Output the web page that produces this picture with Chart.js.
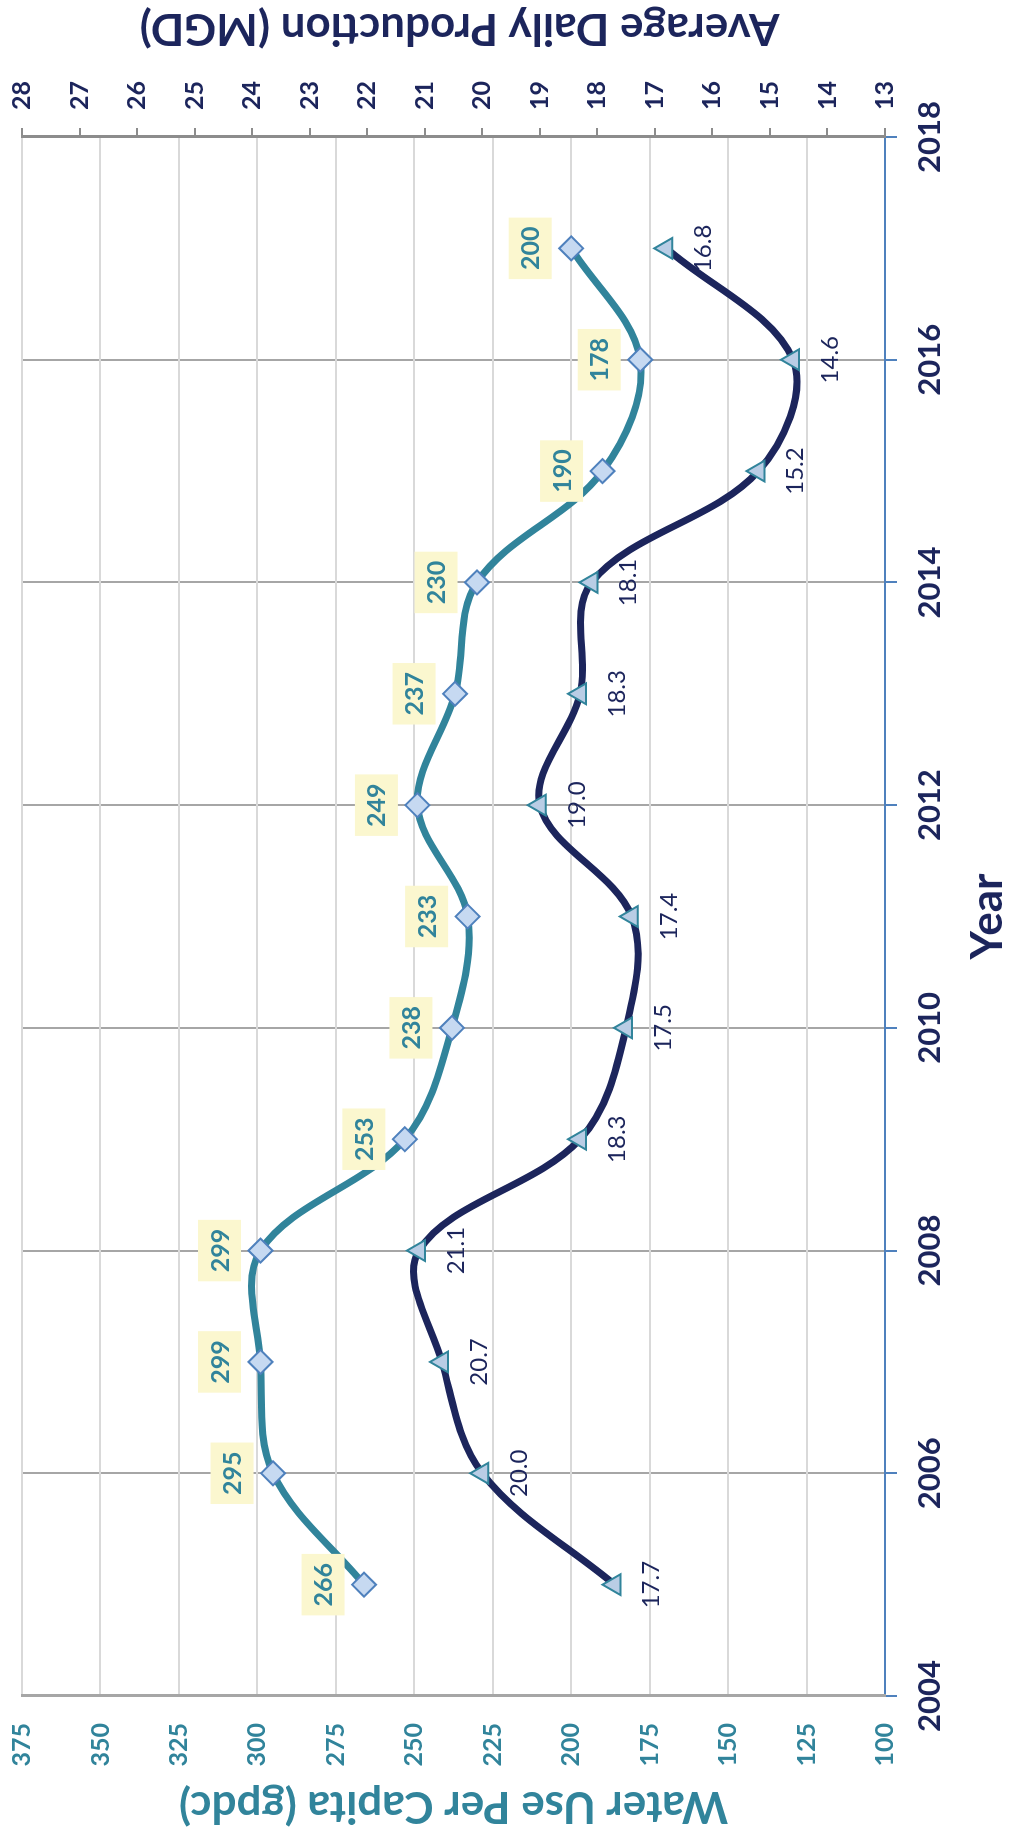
<!DOCTYPE html>
<html>
<head>
<meta charset="utf-8">
<script src="https://cdn.jsdelivr.net/npm/chart.js@4.4.1/dist/chart.umd.min.js"></script>
<style>
  html, body { margin: 0; padding: 0; background: #fff; overflow: hidden; }
  #wrap { position: relative; width: 1010px; height: 1828px; }
  /* chart is drawn landscape, then turned a quarter to the left */
  #chart { position: absolute; left: 0; top: 0; width: 1828px; height: 1010px;
           transform-origin: 0 0; transform: translate(0, 1828px) rotate(-90deg); }
</style>
</head>
<body>
<div id="wrap"><canvas id="chart" width="1828" height="1010"></canvas></div>
<script>
const years = [2005, 2006, 2007, 2008, 2009, 2010, 2011, 2012, 2013, 2014, 2015, 2016, 2017];
const waterUse = [266, 295, 299, 299, 253, 238, 233, 249, 237, 230, 190, 178, 200];
const production = [17.7, 20.0, 20.7, 21.1, 18.3, 17.5, 17.4, 19.0, 18.3, 18.1, 15.2, 14.6, 16.8];

const teal = '#31849B';
const navy = '#1C255C';

Chart.defaults.font.family = 'Lato, "Open Sans", sans-serif';

function toPoints(vals) {
    return years.map((yr, i) => ({ x: yr, y: vals[i] }));
}

// value labels: boxed above for gpdc, plain below for MGD
const valueLabels = {
    id: 'valueLabels',
    afterDatasetsDraw(chart) {
        const ctx = chart.ctx;
        ctx.save();
        ctx.textAlign = 'center';
        ctx.textBaseline = 'middle';
        chart.getDatasetMeta(0).data.forEach((pt, i) => {
            const txt = String(waterUse[i]);
            ctx.font = 'bold 25px Lato';
            const w = ctx.measureText(txt).width + 18;
            const h = 43;
            const cy = pt.y - 41;
            ctx.fillStyle = '#FBF7CF';
            ctx.fillRect(pt.x - w / 2, cy - h / 2, w, h);
            ctx.fillStyle = teal;
            ctx.fillText(txt, pt.x, cy + 1);
        });
        chart.getDatasetMeta(1).data.forEach((pt, i) => {
            ctx.font = '24px Lato';
            ctx.fillStyle = navy;
            ctx.fillText(production[i].toFixed(1), pt.x, pt.y + 37);
        });
        ctx.restore();
    }
};

// secondary axis title reads the same way as the primary one
const rightTitle = {
    id: 'rightTitle',
    afterDraw(chart) {
        const ctx = chart.ctx;
        const area = chart.chartArea;
        ctx.save();
        ctx.translate(chart.width - 28, (area.top + area.bottom) / 2 + 6);
        ctx.rotate(-Math.PI / 2);
        ctx.textAlign = 'center';
        ctx.textBaseline = 'middle';
        ctx.font = 'bold 44px Lato';
        ctx.fillStyle = navy;
        ctx.fillText('Average Daily Production (MGD)', 0, 0);
        ctx.restore();
    }
};

function fixWidth(w) {
    return s => { s.width = w; s.paddingTop = 0; s.paddingBottom = 0; };
}

new Chart(document.getElementById('chart').getContext('2d'), {
    type: 'line',
    data: {
        datasets: [{
            label: 'Water Use Per Capita (gpdc)',
            data: toPoints(waterUse),
            yAxisID: 'y',
            borderColor: teal,
            borderWidth: 7,
            tension: 0.35,
            pointStyle: 'rectRot',
            pointRadius: 12,
            pointBackgroundColor: '#C6D9F1',
            pointBorderColor: '#4F81BD',
            pointBorderWidth: 2
        }, {
            label: 'Average Daily Production (MGD)',
            data: toPoints(production),
            yAxisID: 'y1',
            borderColor: navy,
            borderWidth: 7,
            tension: 0.35,
            pointStyle: 'triangle',
            pointRadius: 12,
            pointBackgroundColor: '#B9CDE5',
            pointBorderColor: teal,
            pointBorderWidth: 2
        }]
    },
    options: {
        responsive: false,
        animation: false,
        devicePixelRatio: 1,
        layout: { padding: { top: 22, left: 0, right: 0, bottom: 0 } },
        plugins: {
            legend: { display: false },
            tooltip: { enabled: false }
        },
        scales: {
            x: {
                type: 'linear',
                min: 2004,
                max: 2018,
                ticks: { stepSize: 2, color: navy, font: { size: 31, weight: 'bold' }, padding: 14,
                         maxRotation: 0, callback: v => String(v) },
                grid: { color: '#A6A6A6', lineWidth: 2, tickLength: 12, tickColor: '#4F81BD', tickWidth: 2 },
                border: { color: '#4F81BD', width: 2 },
                title: { display: true, text: 'Year', color: navy,
                         font: { size: 44, weight: 'bold', lineHeight: 1 }, padding: 0 },
                afterFit: s => { s.height = 125; s.paddingLeft = 0; s.paddingRight = 0; }
            },
            y: {
                position: 'left',
                min: 100,
                max: 375,
                ticks: { stepSize: 25, color: teal, font: { size: 25, weight: 'bold' }, padding: 27 },
                grid: { color: '#D9D9D9', lineWidth: 2, drawTicks: false },
                border: { color: '#A6A6A6', width: 3 },
                title: { display: true, text: 'Water Use Per Capita (gpdc)', color: teal,
                         font: { size: 44, weight: 'bold', lineHeight: 1 }, padding: 0 },
                afterFit: fixWidth(132)
            },
            y1: {
                position: 'right',
                min: 13,
                max: 28,
                ticks: { stepSize: 1, color: navy, font: { size: 25, weight: 'bold' }, padding: 18 },
                grid: { drawOnChartArea: false, color: '#8C8C8C', lineWidth: 2, tickLength: 9 },
                border: { color: '#8C8C8C', width: 3 },
                afterFit: fixWidth(137)
            }
        }
    },
    plugins: [valueLabels, rightTitle]
});
</script>
</body>
</html>
